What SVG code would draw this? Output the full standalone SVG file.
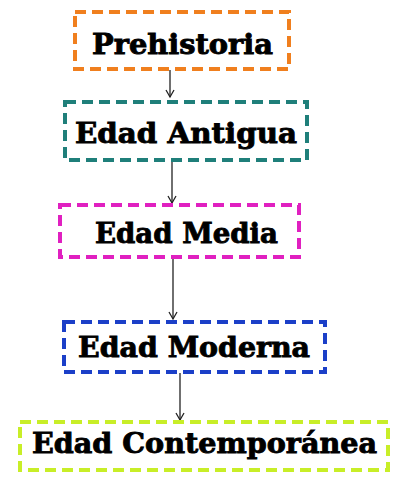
<svg xmlns="http://www.w3.org/2000/svg" width="401" height="477" viewBox="0 0 401 477">
<defs>
<style>
.box{fill:#fff;stroke-width:4;stroke-dasharray:11 6}
.lbl{font-family:"DejaVu Serif","Liberation Serif",serif;font-weight:bold;font-size:28px;fill:#000;stroke:#000;stroke-width:0.9}
.con{stroke:#222;stroke-width:1.3;fill:none}
</style>
<marker id="ah" markerWidth="10" markerHeight="10" refX="8" refY="5" orient="auto" markerUnits="userSpaceOnUse">
<path d="M1,1 L8,5 L1,9" fill="none" stroke="#222" stroke-width="1.3"/>
</marker>
</defs>
<rect width="401" height="477" fill="#fff"/>
<g id="connectors">
<line class="con" x1="170" y1="70" x2="170" y2="97" marker-end="url(#ah)"/>
<line class="con" x1="172" y1="161" x2="172" y2="203" marker-end="url(#ah)"/>
<line class="con" x1="173" y1="258" x2="173" y2="319" marker-end="url(#ah)"/>
<line class="con" x1="180" y1="373" x2="180" y2="420" marker-end="url(#ah)"/>
</g>
<g id="prehistoria">
<rect class="box" x="75" y="12" width="214" height="57" stroke="#f07f1e"/>
<text class="lbl" x="92" y="54" textLength="181" lengthAdjust="spacingAndGlyphs">Prehistoria</text>
</g>
<g id="edad-antigua">
<rect class="box" x="65" y="102" width="242" height="58" stroke="#1f7f7a"/>
<text class="lbl" x="75" y="143" textLength="222" lengthAdjust="spacingAndGlyphs">Edad Antigua</text>
</g>
<g id="edad-media">
<rect class="box" x="60" y="205" width="239" height="52" stroke="#e020c0"/>
<text class="lbl" x="95" y="243" textLength="183" lengthAdjust="spacingAndGlyphs">Edad Media</text>
</g>
<g id="edad-moderna">
<rect class="box" x="64" y="322" width="261" height="50" stroke="#1b3fc8"/>
<text class="lbl" x="78" y="357" textLength="232" lengthAdjust="spacingAndGlyphs">Edad Moderna</text>
</g>
<g id="edad-contemporanea">
<rect class="box" x="20" y="422" width="368" height="48" stroke="#c8ee28"/>
<text class="lbl" x="32" y="453" textLength="345" lengthAdjust="spacingAndGlyphs">Edad Contemporánea</text>
</g>
</svg>
